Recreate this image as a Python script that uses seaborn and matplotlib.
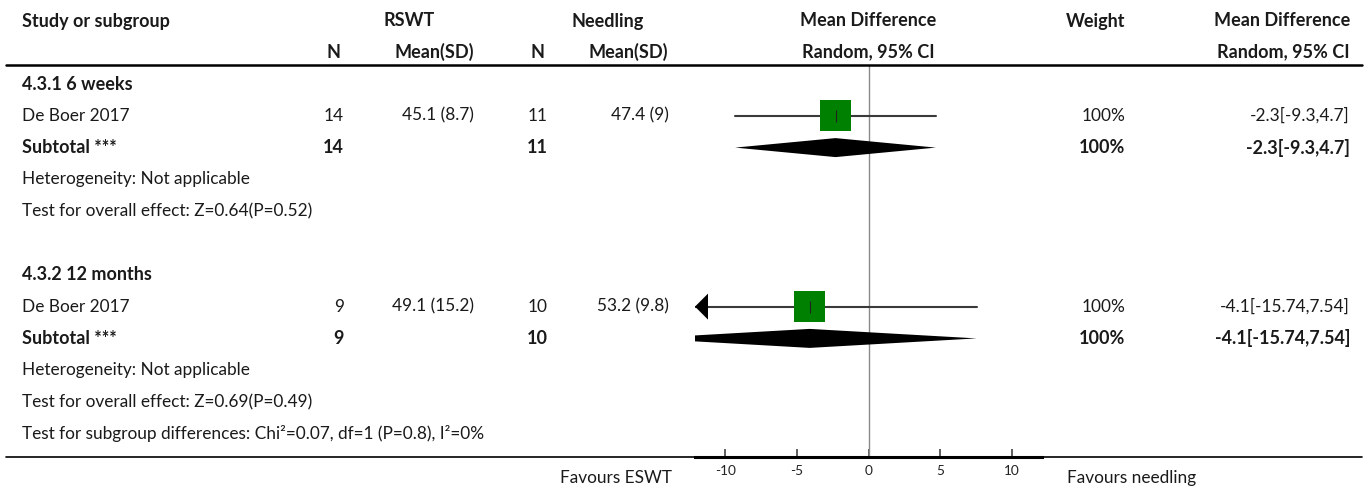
import matplotlib
matplotlib.use("Agg")
import matplotlib.pyplot as plt
import matplotlib.transforms as mtransforms
import seaborn as sns
import pandas as pd
import numpy as np

# ---------------- data ----------------
groups = ["4.3.1 6 weeks", "4.3.2 12 months"]
studies = ["De Boer 2017", "De Boer 2017"]
n_rswt = [14, 9]
mean_rswt = [45.1, 49.1]
sd_rswt = [8.7, 15.2]
n_need = [11, 10]
mean_need = [47.4, 53.2]
sd_need = [9, 9.8]
md = [-2.3, -4.1]
ci_lo = [-9.3, -15.74]
ci_hi = [4.7, 7.54]
weights = ["100%", "100%"]
z_vals = ["0.64", "0.69"]
p_vals = ["0.52", "0.49"]
subgroup_test = "Test for subgroup differences: Chi\u00b2=0.07, df=1 (P=0.8), I\u00b2=0%"
xticks = [-10, -5, 0, 5, 10]
left_label = "Favours ESWT"
right_label = "Favours needling"

# ---------------- style ----------------
sns.set_theme(style="white")
plt.rcParams["font.family"] = ["Lato", "DejaVu Sans"]
FS = 12.4
FSB = 13.0
TXT = "#1a1a1a"

W, H = 1370, 488
fig = plt.figure(figsize=(W / 100, H / 100), dpi=100)

def fx(px):
    return px / W

def fy(py):
    return 1 - py / H

# forest axes: pixel box 695..1042 horizontally, 65..456 vertically
ax = fig.add_axes([fx(695), fy(456.5), fx(1042) - fx(695), fy(65) - fy(456.5)])
row0, drow = 84.0, 31.8
ax.set_ylim((456.5 - row0) / drow, (65 - row0) / drow)
ax.set_xlim(-12.1, 12.1)
px_per_unit = (1042 - 695) / 24.2

# rows
study_rows = [1, 7]
sub_rows = [2, 8]
head_rows = [0, 6]
het_rows = [3, 9]
eff_rows = [4, 10]
subgroup_row = 11

# zero line
ax.axvline(0, color="#8a8a8a", lw=1.0, zorder=1)

# CI lines (clipped at axis, arrow where outside)
xmin, xmax = ax.get_xlim()
alen = 13 / px_per_unit
ahh = 13 / drow
for lo, hi, r in zip(ci_lo, ci_hi, study_rows):
    ax.plot([max(lo, xmin), min(hi, xmax)], [r, r], color="#3a3a3a", lw=1.5, zorder=2)
    if lo < xmin:
        ax.fill([xmin, xmin + alen, xmin + alen], [r, r - ahh, r + ahh],
                color="black", lw=0, zorder=4, clip_on=False)
    if hi > xmax:
        ax.fill([xmax, xmax - alen, xmax - alen], [r, r - ahh, r + ahh],
                color="black", lw=0, zorder=4, clip_on=False)

# squares with seaborn
df = pd.DataFrame({"md": md, "row": study_rows})
sns.scatterplot(data=df, x="md", y="row", marker="s", s=510, color="#008000",
                edgecolor="none", ax=ax, zorder=3, legend=False)
ax.scatter(md, study_rows, marker="|", s=70, color="#222222", linewidths=0.8, zorder=5)

# diamonds
hh = 9.5 / drow
for m, lo, hi, r in zip(md, ci_lo, ci_hi, sub_rows):
    ax.fill([lo, m, hi, m], [r, r - hh, r, r + hh], color="black", lw=0, zorder=3)

# axis styling
for s in ["top", "left", "right"]:
    ax.spines[s].set_visible(False)
ax.spines["bottom"].set_color("black")
ax.spines["bottom"].set_linewidth(2.2)
ax.set_yticks([])
ax.set_xticks(xticks)
ax.set_xticklabels([str(t) for t in xticks], fontsize=9.8, color="#222222")
ax.tick_params(axis="x", direction="in", length=5.5, width=1.1, color="#333333", pad=6,
               bottom=True)
ax.set_xlabel("")
ax.set_ylabel("")
ax.patch.set_alpha(0)

# full-width rules
fig.add_artist(plt.Line2D([fx(6), fx(1362)], [fy(64.5)] * 2, color="black", lw=1.8))
fig.add_artist(plt.Line2D([fx(6), fx(1362)], [fy(456.7)] * 2, color="black", lw=1.2))

# text helpers: x in figure pixels, y in forest-axes rows
trans = mtransforms.blended_transform_factory(fig.transFigure, ax.transData)

def put(px, row, s, ha="left", bold=False):
    fig.text(fx(px), row, s, transform=trans, ha=ha, va="center",
             fontsize=FSB if bold else FS, color=TXT,
             fontweight="bold" if bold else "normal")

L = 21.7
# headers
hr1 = (21 - row0) / drow
hr2 = (52 - row0) / drow
put(L, hr1, "Study or subgroup", bold=True)
put(409, hr1, "RSWT", ha="center", bold=True)
put(608, hr1, "Needling", ha="center", bold=True)
put(868, hr1, "Mean Difference", ha="center", bold=True)
put(1125, hr1, "Weight", ha="right", bold=True)
put(1350, hr1, "Mean Difference", ha="right", bold=True)
put(341, hr2, "N", ha="right", bold=True)
put(474, hr2, "Mean(SD)", ha="right", bold=True)
put(545, hr2, "N", ha="right", bold=True)
put(668, hr2, "Mean(SD)", ha="right", bold=True)
put(868, hr2, "Random, 95% CI", ha="center", bold=True)
put(1350, hr2, "Random, 95% CI", ha="right", bold=True)

def fmt(v):
    return f"{v:g}"

for g in range(len(groups)):
    put(L, head_rows[g], groups[g], bold=True)
    r = study_rows[g]
    put(L, r, studies[g])
    put(344, r, fmt(n_rswt[g]), ha="right")
    put(474, r, f"{fmt(mean_rswt[g])} ({fmt(sd_rswt[g])})", ha="right")
    put(548, r, fmt(n_need[g]), ha="right")
    put(669, r, f"{fmt(mean_need[g])} ({fmt(sd_need[g])})", ha="right")
    put(1125, r, weights[g], ha="right")
    ci_txt = f"{fmt(md[g])}[{fmt(ci_lo[g])},{fmt(ci_hi[g])}]"
    put(1350, r, ci_txt, ha="right")
    r = sub_rows[g]
    put(L, r, "Subtotal ***", bold=True)
    put(344, r, fmt(n_rswt[g]), ha="right", bold=True)
    put(548, r, fmt(n_need[g]), ha="right", bold=True)
    put(1125, r, weights[g], ha="right", bold=True)
    put(1350, r, ci_txt, ha="right", bold=True)
    put(L, het_rows[g], "Heterogeneity: Not applicable")
    put(L, eff_rows[g], f"Test for overall effect: Z={z_vals[g]}(P={p_vals[g]})")

put(L, subgroup_row, subgroup_test)

fr = (478 - row0) / drow
put(672, fr, left_label, ha="right")
put(1067, fr, right_label, ha="left")

fig.savefig("out.png", dpi=100)
